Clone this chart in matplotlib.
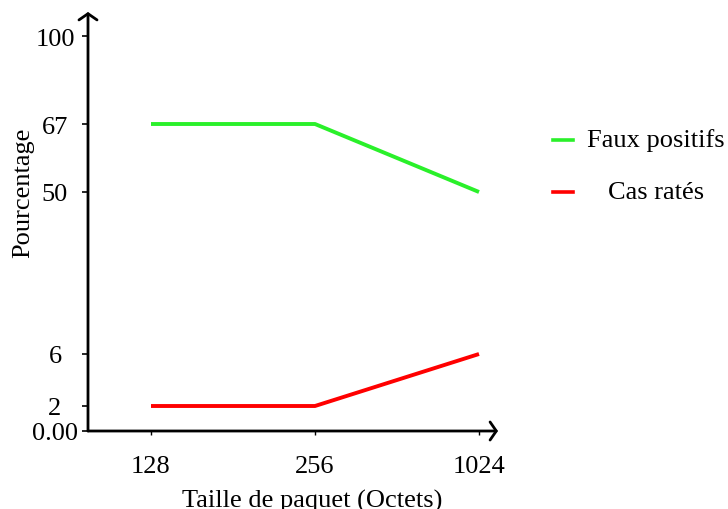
import numpy as np
import matplotlib
matplotlib.use("Agg")
from matplotlib import pyplot as plt
from matplotlib.lines import Line2D

plt.rcParams['font.family'] = ['Liberation Serif', 'DejaVu Serif']

# data
sizes = ['128', '256', '1024']
faux_positifs = [67, 67, 50]
cas_rates = [2, 2, 6]
series_names = ['Faux positifs', 'Cas ratés']
series_colors = ['#2af02a', '#ff0000']
y_ticks = [0, 2, 6, 50, 67, 100]
y_ticklabels = ['0.00', '2', '6', '50', '67', '100']

# piecewise linear y scale (tick value -> screen position)
y_knots = [0, 2, 6, 50, 67, 100, 109]
y_pos = [0, 25, 77, 239, 307, 395, 419]

def fwd(v):
    return np.interp(v, y_knots, y_pos)

def inv(p):
    return np.interp(p, y_pos, y_knots)

FS = 19

fig = plt.figure(figsize=(7.28, 5.10), dpi=100)
W, H = 728, 510
ax = fig.add_axes([88 / W, (H - 432) / H, (498 - 88) / W, (432 - 13) / H])
ax.set_yscale('function', functions=(fwd, inv))

x = np.arange(len(sizes))
for vals, name, col in zip([faux_positifs, cas_rates], series_names, series_colors):
    ax.plot(x, vals, color=col, lw=2.8, solid_capstyle='butt', clip_on=False)

ax.set_xlim(-63 / 164, 2 + 19 / 164)
ax.set_ylim(0, 109)

for s in ax.spines.values():
    s.set_visible(False)
# axes with open arrow heads
arrow = dict(arrowstyle='->, head_length=0.45, head_width=0.65', lw=2,
             color='black', mutation_scale=10, shrinkA=0, shrinkB=0)
ax.annotate('', xy=(0, 1), xytext=(0, 0), xycoords='axes fraction', arrowprops=arrow)
ax.annotate('', xy=(1, 0), xytext=(0, 0), xycoords='axes fraction', arrowprops=arrow)

ax.set_yticks(y_ticks)
ax.set_yticklabels(y_ticklabels)
ax.yaxis.set_minor_locator(matplotlib.ticker.NullLocator())
ax.set_xticks(x)
ax.set_xticklabels(sizes)
ax.tick_params(axis='y', length=4.3, width=1.2, pad=19.5, labelsize=FS)
ax.tick_params(axis='x', length=3, width=1, pad=14, labelsize=FS)
for t in ax.get_yticklabels():
    t.set_horizontalalignment('center')

ax.set_xlabel('Taille de paquet (Octets)', fontsize=FS)
ax.xaxis.set_label_coords((312 - 88) / 410, -0.138)
ax.set_ylabel('Pourcentage', fontsize=FS)
ax.yaxis.set_label_coords(-0.132, 0.570)

# legend drawn by hand (text centred)
for i, (name, col) in enumerate(zip(series_names, series_colors)):
    yy = (H - 141 - i * 52) / H
    fig.add_artist(Line2D([553 / W, 573 / W], [yy, yy], color=col, lw=2.6))
    fig.text(656 / W, yy, name, ha='center', va='center', fontsize=FS)

fig.savefig('out.png', dpi=100)
